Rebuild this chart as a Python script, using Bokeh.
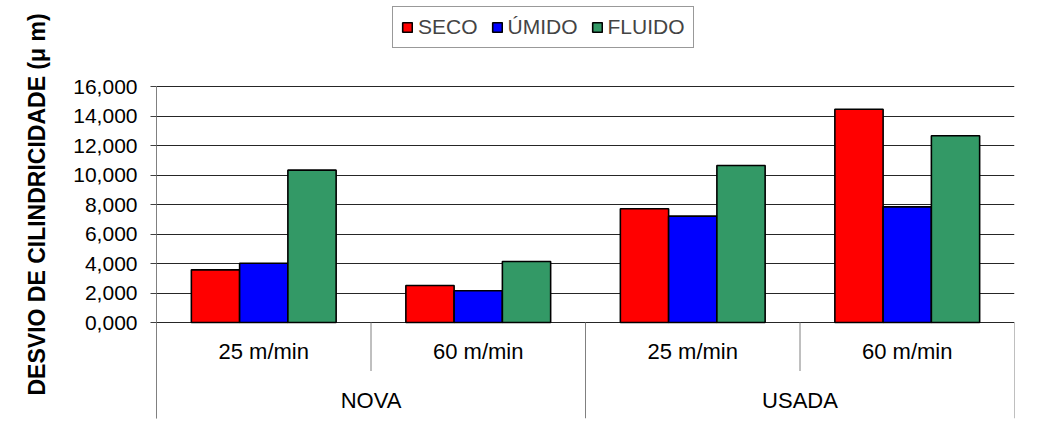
from bokeh.plotting import figure
from bokeh.models import (ColumnDataSource, FactorRange, Range1d, FixedTicker,
                          CustomJSTickFormatter, Legend, LegendItem, Title)
from bokeh.transform import dodge
from bokeh.embed import file_html
from bokeh.resources import INLINE
from bokeh.core.properties import value

# ---- data -------------------------------------------------------------
tools = ["NOVA", "USADA"]
speeds = ["25 m/min", "60 m/min"]
series = ["SECO", "ÚMIDO", "FLUIDO"]
seco = [3.57, 2.51, 7.71, 14.46]
umido = [4.02, 2.15, 7.21, 7.84]
fluido = [10.33, 4.14, 10.64, 12.66]
y_ticks = [0, 2, 4, 6, 8, 10, 12, 14, 16]
colors = ["#FF0000", "#0000FF", "#339966"]

factors = [(t, s) for t in tools for s in speeds]

# ---- layout -----------------------------------------------------------
W, H = 1061, 439
LEFT, RIGHT, TOP, BOTTOM = 156, 47, 0, 21
plot_h = H - TOP - BOTTOM
px_per_unit = 236 / 16
y_max = y_ticks[-1]
val_top = 86 - TOP
val_bottom = plot_h - val_top - y_max * px_per_unit
r_top = y_max + val_top / px_per_unit
r_bot = -val_bottom / px_per_unit

FONT = "Liberation Sans"

p = figure(width=W, height=H,
           x_range=FactorRange(factors=factors, factor_padding=0,
                               group_padding=0, range_padding=0),
           y_range=Range1d(r_bot, r_top),
           output_backend="svg", toolbar_location=None,
           x_axis_location=None,
           min_border_left=LEFT, min_border_right=RIGHT,
           min_border_top=TOP, min_border_bottom=BOTTOM)
p.outline_line_color = None
p.background_fill_color = "white"
p.border_fill_color = "white"

ax = p.yaxis[0]
ax.bounds = (r_bot, y_max)
ax.ticker = FixedTicker(ticks=y_ticks)
ax.formatter = CustomJSTickFormatter(code="return tick.toFixed(3).replace('.', ',');")
ax.axis_line_color = "#808080"
ax.major_tick_line_color = "#404040"
ax.major_tick_out = 6
ax.major_tick_in = 0
ax.minor_tick_line_color = None
ax.major_label_standoff = 13
ax.major_label_text_font = FONT
ax.major_label_text_font_size = "21px"
ax.major_label_text_color = "black"

p.ygrid.ticker = FixedTicker(ticks=y_ticks)
p.ygrid.grid_line_color = "black"
p.ygrid.grid_line_alpha = 0.85
p.xgrid.visible = False

src = ColumnDataSource(dict(x=factors, seco=seco, umido=umido, fluido=fluido))
bw = 0.225
renderers = []
for off, col, c in zip([-bw, 0, bw], ["seco", "umido", "fluido"], colors):
    r = p.vbar(x=dodge("x", off, range=p.x_range), top=col, width=bw, source=src,
               fill_color=c, line_color="black", line_width=1.6)
    renderers.append(r)

sub_y = -48.5 / px_per_unit
inner = [1, 3]
outer = [0, 2, 4]
p.segment(x0=inner, x1=inner, y0=[0] * len(inner), y1=[sub_y] * len(inner),
          line_color="#808080", line_width=1)
p.segment(x0=outer, x1=outer, y0=[0] * len(outer), y1=[r_bot] * len(outer),
          line_color="#808080", line_width=1)

p.text(x=factors, y=[-29 / px_per_unit] * len(factors), text=speeds * len(tools),
       text_align="center", text_baseline="middle", text_font=value(FONT),
       text_font_size="22px", text_color="black")
p.text(x=tools, y=[-78 / px_per_unit] * len(tools), text=tools,
       text_align="center", text_baseline="middle", text_font=value(FONT),
       text_font_size="22px", text_color="black")

legend = Legend(items=[LegendItem(label=s, renderers=[r]) for s, r in zip(series, renderers)],
                orientation="horizontal", location=(236, plot_h - 48 + TOP),
                glyph_width=12, glyph_height=12, label_standoff=5, spacing=13,
                padding=8, margin=0, border_line_color="#333333", border_line_width=1,
                label_text_font=FONT, label_text_font_size="21px",
                background_fill_color="white", background_fill_alpha=1)
p.add_layout(legend)

p.add_layout(Title(text="DESVIO DE CILINDRICIDADE  (μ m)", align="left", offset=23,
                   standoff=42, text_font=FONT, text_font_style="bold",
                   text_font_size="23px", text_color="black"), "left")

open("out.html", "w").write(file_html(p, INLINE))
